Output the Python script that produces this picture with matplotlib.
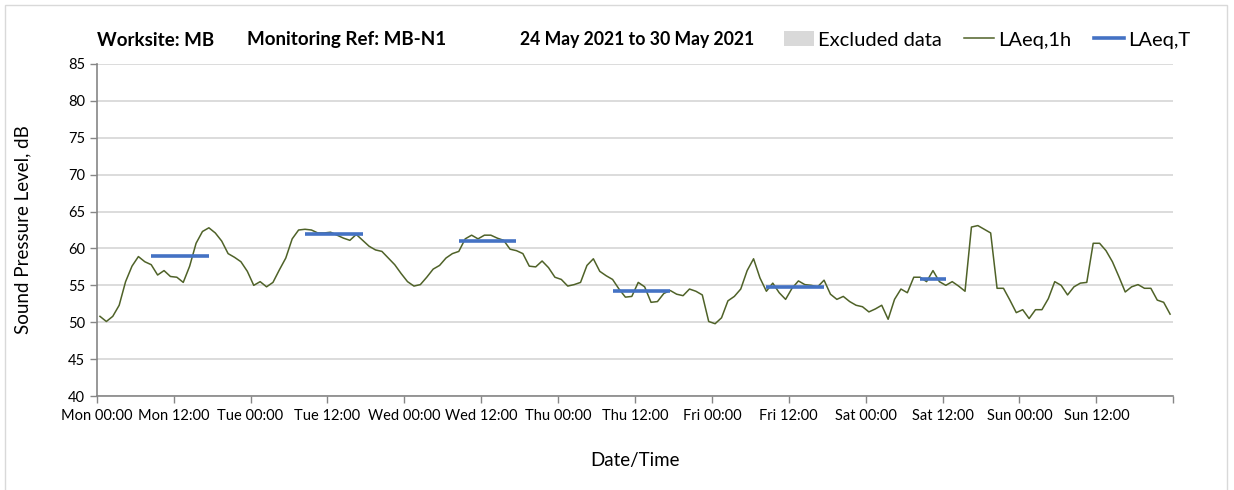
import numpy as np
import matplotlib.pyplot as plt
from matplotlib.patches import Patch, Rectangle
from matplotlib.lines import Line2D

plt.rcParams['font.family'] = ['Lato', 'DejaVu Sans']

# hourly LAeq,1h values, Mon 00:00 -> Sun 23:00
laeq_1h = [50.8, 50.1, 50.8, 52.3, 55.5, 57.6, 58.9, 58.2, 57.8, 56.4, 57.0, 56.2,
           56.1, 55.4, 57.6, 60.7, 62.3, 62.8, 62.1, 61.0, 59.3, 58.8, 58.2, 56.9,
           55.0, 55.5, 54.8, 55.4, 57.1, 58.7, 61.3, 62.5, 62.6, 62.5, 62.1, 62.1,
           62.2, 61.8, 61.4, 61.1, 61.9, 61.1, 60.3, 59.8, 59.6, 58.7, 57.8, 56.6,
           55.5, 54.9, 55.1, 56.1, 57.2, 57.7, 58.7, 59.3, 59.6, 61.3, 61.8, 61.3,
           61.8, 61.8, 61.4, 61.1, 59.9, 59.7, 59.3, 57.6, 57.5, 58.3, 57.4, 56.1,
           55.8, 54.9, 55.1, 55.4, 57.7, 58.6, 56.9, 56.3, 55.8, 54.5, 53.4, 53.5,
           55.4, 54.8, 52.7, 52.8, 53.9, 54.3, 53.8, 53.6, 54.5, 54.2, 53.7, 50.1,
           49.8, 50.6, 52.9, 53.5, 54.5, 57.0, 58.6, 56.0, 54.2, 55.3, 54.0, 53.1,
           54.6, 55.6, 55.1, 55.0, 54.8, 55.7, 53.8, 53.1, 53.5, 52.8, 52.3, 52.1,
           51.4, 51.8, 52.3, 50.4, 53.1, 54.5, 54.0, 56.1, 56.1, 55.5, 57.0, 55.5,
           55.0, 55.5, 54.9, 54.2, 62.9, 63.1, 62.6, 62.1, 54.6, 54.6, 53.0, 51.3,
           51.7, 50.5, 51.7, 51.7, 53.2, 55.5, 55.0, 53.7, 54.8, 55.3, 55.4, 60.7,
           60.7, 59.7, 58.2, 56.2, 54.1, 54.8, 55.1, 54.6, 54.6, 53.0, 52.7, 51.1]

# LAeq,T periods (hour index of first and last hour) and level
period_start = [8, 32, 56, 80, 104, 128]
period_end = [17, 41, 65, 89, 113, 132]
laeq_t = [59.0, 61.9, 61.0, 54.2, 54.8, 55.9]

days = ['Mon', 'Tue', 'Wed', 'Thu', 'Fri', 'Sat', 'Sun']
tick_labels = [d + ' ' + t for d in days for t in ['00:00', '12:00']] + ['']

green = '#4F6228'
blue = '#4472C4'

fig = plt.figure(figsize=(12.34, 4.90), dpi=100)
ax = fig.add_axes([0.0784, 0.1918, 0.8724, 0.6776])

hours = np.arange(len(laeq_1h)) + 0.5
ax.plot(hours, laeq_1h, color=green, lw=1.1)
for s, e, v in zip(period_start, period_end, laeq_t):
    ax.plot([s + 0.5, e + 0.5], [v, v], color=blue, lw=2.6, solid_capstyle='butt')

ax.set_xlim(0, 168)
ax.set_ylim(40, 85)
ax.set_yticks(range(40, 86, 5))
ax.set_xticks(range(0, 169, 12))
ax.set_xticklabels(tick_labels)
ax.set_xticks(range(0, 169, 24), minor=True)
ax.grid(axis='y', color='#d9d9d9', lw=1.3)
ax.grid(axis='x', which='minor', color='#d9d9d9', lw=1.3)
ax.set_axisbelow(True)
ax.tick_params(axis='both', which='both', direction='out', length=5, color='#868686',
               labelsize=10.5, width=1)
ax.tick_params(axis='x', pad=4)
for sp in ['top', 'right']:
    ax.spines[sp].set_visible(False)
for sp in ['left', 'bottom']:
    ax.spines[sp].set_color('#868686')
    ax.spines[sp].set_linewidth(1.2)

ax.set_xlabel('Date/Time', fontsize=13.5, labelpad=21)
ax.set_ylabel('Sound Pressure Level, dB', fontsize=13.5, labelpad=26)

# title pieces
fig.text(97 / 1234, 1 - 40 / 490, 'Worksite: MB', weight='bold', fontsize=13.5, va='center')
fig.text(247 / 1234, 1 - 40 / 490, 'Monitoring Ref: MB-N1', weight='bold', fontsize=13.5, va='center')
fig.text(520 / 1234, 1 - 40 / 490, '24 May 2021 to 30 May 2021', weight='bold', fontsize=12.7, va='center')

handles = [Patch(facecolor='#d9d9d9', edgecolor='none'),
           Line2D([], [], color=green, lw=1.1),
           Line2D([], [], color=blue, lw=2.6)]
fig.legend(handles, ['Excluded data', 'LAeq,1h', 'LAeq,T'], ncol=3, loc='center left',
           bbox_to_anchor=(776 / 1234, 1 - 40 / 490), frameon=False, fontsize=14.5,
           handlelength=1.5, handletextpad=0.2, columnspacing=1.1, borderaxespad=0)

fig.patches.append(Rectangle((5 / 1234, -0.01), 1222 / 1234, 1 - 5 / 490 + 0.01,
                             transform=fig.transFigure, fill=False, edgecolor='#d9d9d9', lw=1))

plt.savefig('out.png', dpi=100)
